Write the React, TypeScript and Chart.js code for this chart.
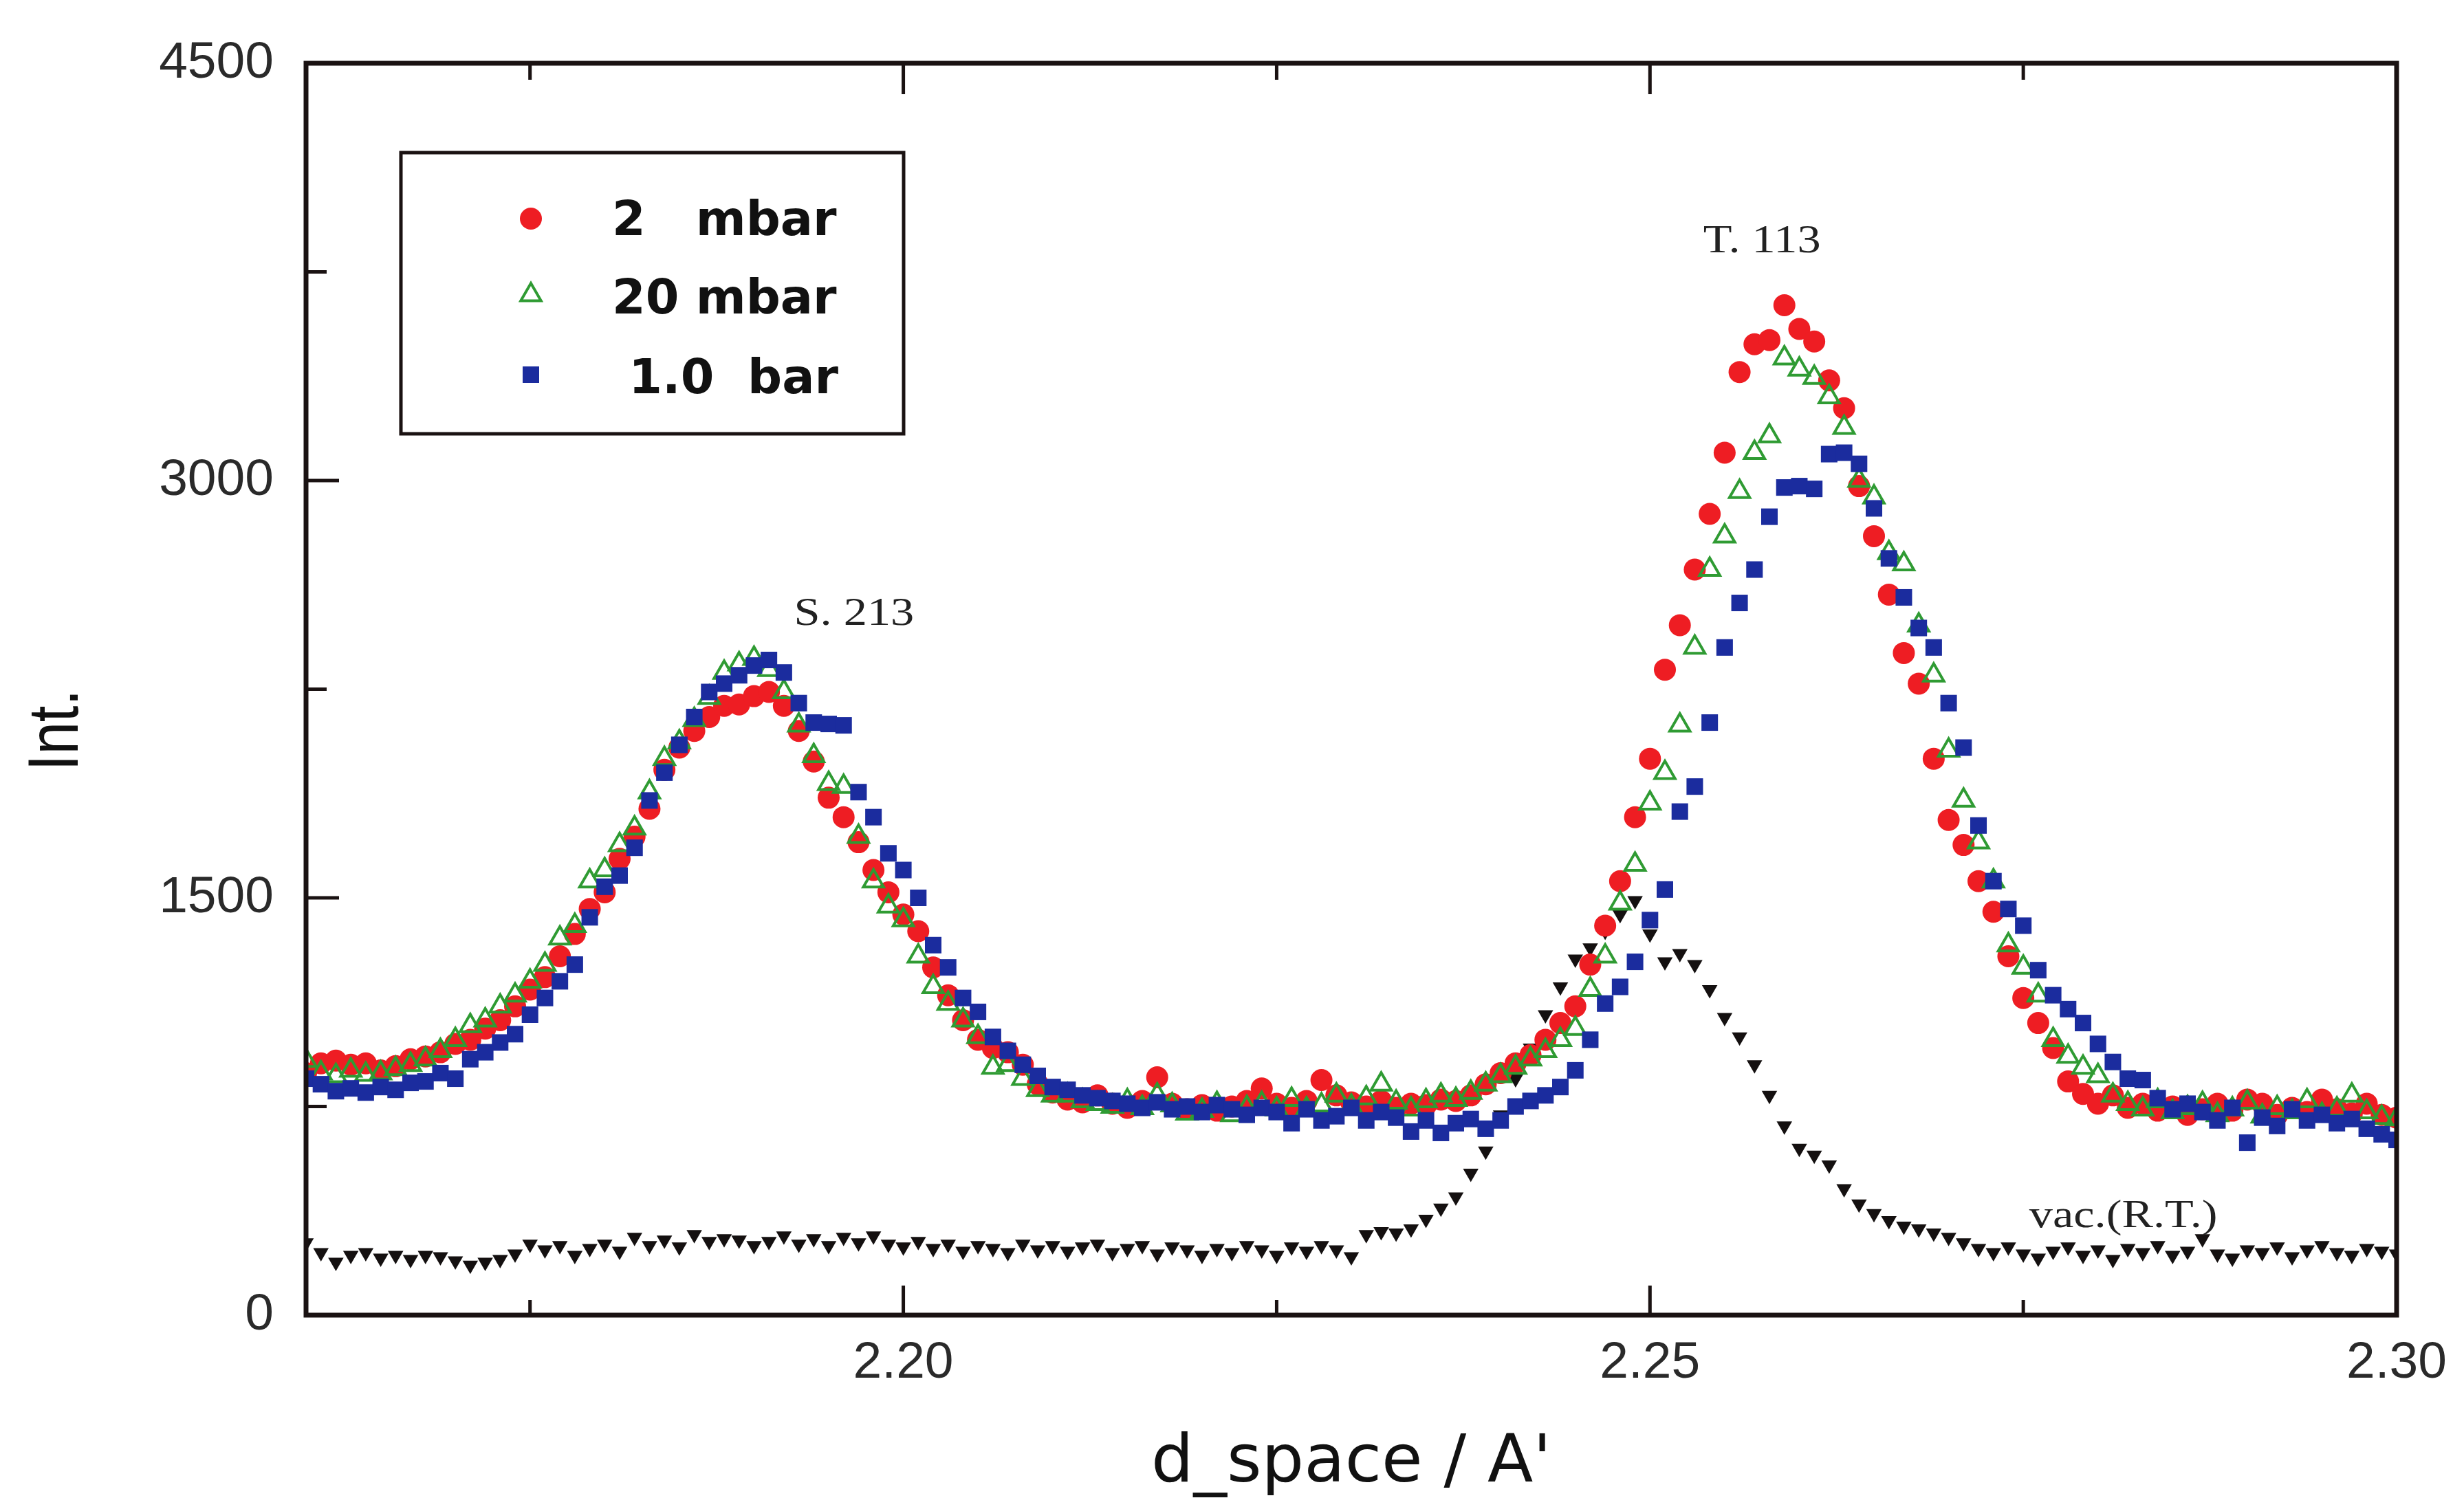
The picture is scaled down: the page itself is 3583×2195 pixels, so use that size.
import React, { useEffect, useRef } from "react";
import { Chart, registerables } from "chart.js";

Chart.register(...registerables);

// d-spacing positions (Å)
const dSpace = [
  2.160, 2.161, 2.162, 2.163, 2.164, 2.165, 2.166, 2.167, 2.168, 2.169,
  2.170, 2.171, 2.172, 2.173, 2.174, 2.175, 2.176, 2.177, 2.178, 2.179,
  2.180, 2.181, 2.182, 2.183, 2.184, 2.185, 2.186, 2.187, 2.188, 2.189,
  2.190, 2.191, 2.192, 2.193, 2.194, 2.195, 2.196, 2.197, 2.198, 2.199,
  2.200, 2.201, 2.202, 2.203, 2.204, 2.205, 2.206, 2.207, 2.208, 2.209,
  2.210, 2.211, 2.212, 2.213, 2.214, 2.215, 2.216, 2.217, 2.218, 2.219,
  2.220, 2.221, 2.222, 2.223, 2.224, 2.225, 2.226, 2.227, 2.228, 2.229,
  2.230, 2.231, 2.232, 2.233, 2.234, 2.235, 2.236, 2.237, 2.238, 2.239,
  2.240, 2.241, 2.242, 2.243, 2.244, 2.245, 2.246, 2.247, 2.248, 2.249,
  2.250, 2.251, 2.252, 2.253, 2.254, 2.255, 2.256, 2.257, 2.258, 2.259,
  2.260, 2.261, 2.262, 2.263, 2.264, 2.265, 2.266, 2.267, 2.268, 2.269,
  2.270, 2.271, 2.272, 2.273, 2.274, 2.275, 2.276, 2.277, 2.278, 2.279,
  2.280, 2.281, 2.282, 2.283, 2.284, 2.285, 2.286, 2.287, 2.288, 2.289,
  2.290, 2.291, 2.292, 2.293, 2.294, 2.295, 2.296, 2.297, 2.298, 2.299,
  2.300,
];

// 2 mbar (red circles)
const int2mbar = [
  870, 905, 915, 900, 905, 880, 895, 920, 930, 945,
  975, 990, 1030, 1060, 1110, 1170, 1215, 1290, 1370, 1460,
  1520, 1640, 1720, 1820, 1960, 2040, 2100, 2150, 2190, 2195,
  2225, 2240, 2190, 2100, 1990, 1860, 1790, 1700, 1600, 1520,
  1440, 1380, 1250, 1150, 1060, 990, 960, 945, 900, 830,
  800, 775, 765, 790, 760, 745, 770, 855, 760, 740,
  755, 735, 750, 770, 815, 760, 745, 770, 845, 790,
  765, 750, 770, 745, 760, 755, 775, 770, 790, 830,
  870, 905, 935, 990, 1050, 1110, 1260, 1400, 1560, 1790,
  2000, 2320, 2480, 2680, 2880, 3100, 3390, 3490, 3505, 3630,
  3545, 3500, 3360, 3260, 2980, 2800, 2590, 2380, 2270, 2000,
  1780, 1690, 1560, 1450, 1290, 1140, 1050, 960, 840, 795,
  760, 790, 745, 760, 735, 750, 720, 740, 760, 735,
  775, 760, 720, 745, 730, 775, 740, 725, 760, 720,
  710,
];

// 20 mbar (green open triangles)
const int20mbar = [
  915, 870, 860, 880, 865, 870, 885, 900, 920, 950,
  990, 1040, 1060, 1110, 1150, 1200, 1260, 1355, 1400, 1560,
  1600, 1690, 1750, 1880, 2000, 2060, 2140, 2220, 2310, 2340,
  2360, 2320, 2240, 2120, 2010, 1910, 1900, 1720, 1560, 1470,
  1420, 1290, 1180, 1120, 1060, 1000, 890, 900, 850, 810,
  790, 790, 770, 760, 750, 770, 745, 790, 755, 725,
  735, 760, 720, 745, 760, 740, 775, 740, 755, 790,
  750, 780, 830, 765, 740, 770, 790, 775, 800, 830,
  860, 890, 920, 950, 990, 1030, 1170, 1290, 1480, 1620,
  1840, 1950, 2120, 2400, 2680, 2800, 2960, 3100, 3160, 3440,
  3400, 3370, 3300, 3190, 3000, 2940, 2740, 2700, 2480, 2300,
  2030, 1850, 1700, 1560, 1330, 1250, 1150, 990, 930, 890,
  860, 790, 760, 740, 770, 730, 745, 760, 720, 740,
  765, 715, 745, 730, 770, 720, 740, 790, 730, 710,
  705,
];

// 1.0 bar (blue squares)
const int1bar = [
  850, 830, 805, 815, 800, 820, 810, 835, 840, 870,
  850, 920, 945, 980, 1010, 1080, 1140, 1200, 1260, 1430,
  1540, 1580, 1680, 1850, 1950, 2050, 2150, 2240, 2270, 2300,
  2335, 2355, 2310, 2200, 2130, 2125, 2120, 1880, 1790, 1660,
  1600, 1500, 1330, 1250, 1140, 1090, 1000, 950, 900, 860,
  820, 810, 790, 780, 770, 760, 745, 765, 740, 750,
  730, 755, 740, 720, 745, 730, 690, 740, 700, 715,
  745, 700, 730, 710, 660, 700, 655, 690, 705, 670,
  700, 750, 770, 790, 820, 880, 990, 1120, 1180, 1270,
  1420, 1530, 1810, 1900, 2130, 2400, 2560, 2680, 2870, 2975,
  2980, 2970, 3095, 3100, 3060, 2900, 2720, 2580, 2470, 2400,
  2200, 2040, 1760, 1560, 1460, 1400, 1240, 1150, 1100, 1050,
  975, 910, 850, 845, 780, 740, 760, 730, 700, 745,
  620, 710, 680, 740, 700, 720, 690, 705, 670, 650,
  630,
];

// vacuum, room temperature (black down-triangles)
const intVacRT = [
  260, 225, 190, 215, 225, 205, 215, 200, 215, 210,
  195, 180, 190, 200, 220, 255, 235, 250, 215, 240,
  255, 230, 280, 250, 270, 245, 290, 265, 275, 270,
  250, 265, 285, 255, 275, 250, 280, 260, 285, 255,
  245, 265, 240, 255, 230, 250, 240, 225, 255, 235,
  250, 230, 245, 255, 225, 240, 250, 220, 245, 235,
  215, 240, 225, 250, 235, 215, 245, 230, 250, 235,
  210, 290, 300, 295, 310, 345, 385, 425, 510, 590,
  720, 850, 960, 1080, 1180, 1280, 1320, 1380, 1440, 1490,
  1370, 1270, 1300, 1260, 1170, 1070, 1000, 900, 790, 680,
  600, 575, 540, 455, 400, 365, 340, 320, 310, 295,
  280, 260, 240, 225, 245, 220, 205, 230, 245, 215,
  235, 200, 240, 225, 250, 215, 230, 275, 220, 205,
  235, 225, 245, 210, 235, 250, 225, 215, 240, 230,
  220,
];

const seriesLabels = ["2   mbar", "20 mbar", " 1.0  bar", "vac.(R.T.)"];
const xTickValues = [2.175, 2.2, 2.225, 2.25, 2.275, 2.3];
const xLabelValues = [2.2, 2.25, 2.3];
const yTickValues = [0, 750, 1500, 2250, 3000, 3750, 4500];
const yLabelValues = [0, 1500, 3000, 4500];
const peakNotes = [
  { text: "S. 213", d: 2.1967, v: 2482 },
  { text: "T. 113", d: 2.2575, v: 3820 },
  { text: "vac.(R.T.)", d: 2.2817, v: 316 },
];

const RED = "#ee1d23";
const GREEN = "#2f9b33";
const BLUE = "#1b2c9e";
const BLACK = "#141010";
const AXIS = "#1a1212";

const isIn = (arr: number[], v: number) => arr.some((a) => Math.abs(a - v) < 1e-9);

const bgPlugin = {
  id: "bg",
  beforeDraw(chart: any) {
    const { ctx, width, height } = chart;
    ctx.save();
    ctx.fillStyle = "#ffffff";
    ctx.fillRect(0, 0, width, height);
    ctx.restore();
  },
};

const framePlugin = {
  id: "frame",
  afterDatasetsDraw(chart: any) {
    const { ctx, chartArea: a, scales } = chart;
    ctx.save();
    ctx.strokeStyle = AXIS;
    ctx.lineWidth = 7;
    ctx.strokeRect(a.left, a.top, a.right - a.left, a.bottom - a.top);
    ctx.lineWidth = 5;
    ctx.beginPath();
    for (const v of xTickValues) {
      const px = scales.x.getPixelForValue(v);
      if (px >= a.right - 3) continue;
      const major = isIn(xLabelValues, v);
      ctx.moveTo(px, a.bottom);
      ctx.lineTo(px, a.bottom - (major ? 43 : 22));
      ctx.moveTo(px, a.top);
      ctx.lineTo(px, a.top + (major ? 45 : 24));
    }
    for (const v of yTickValues) {
      const py = scales.y.getPixelForValue(v);
      if (py >= a.bottom - 3 || py <= a.top + 3) continue;
      const major = isIn(yLabelValues, v);
      ctx.moveTo(a.left, py);
      ctx.lineTo(a.left + (major ? 48 : 30), py);
    }
    ctx.stroke();
    ctx.restore();
  },
};

function drawMarker(ctx: CanvasRenderingContext2D, style: string, x: number, y: number, ds: any) {
  const r = ds.pointRadius;
  ctx.save();
  ctx.fillStyle = ds.pointBackgroundColor;
  ctx.strokeStyle = ds.pointBorderColor;
  ctx.lineWidth = ds.pointBorderWidth;
  ctx.beginPath();
  if (style === "circle") {
    ctx.arc(x, y, r, 0, Math.PI * 2);
  } else if (style === "triangle") {
    for (let k = 0; k < 3; k++) {
      const ang = -Math.PI / 2 + (k * 2 * Math.PI) / 3;
      const px = x + Math.cos(ang) * r;
      const py = y + Math.sin(ang) * r;
      if (k === 0) ctx.moveTo(px, py);
      else ctx.lineTo(px, py);
    }
    ctx.closePath();
  } else {
    const s = r * Math.SQRT1_2;
    ctx.rect(x - s, y - s, 2 * s, 2 * s);
  }
  ctx.fill();
  if (ds.pointBorderWidth > 0) ctx.stroke();
  ctx.restore();
}

const legendPlugin = {
  id: "boxLegend",
  afterDraw(chart: any) {
    const { ctx, chartArea: a } = chart;
    const bx = a.left + 138;
    const by = a.top + 130;
    const bw = 731;
    const bh = 409;
    ctx.save();
    ctx.fillStyle = "#ffffff";
    ctx.fillRect(bx, by, bw, bh);
    ctx.lineWidth = 5;
    ctx.strokeStyle = AXIS;
    ctx.strokeRect(bx, by, bw, bh);
    const markerY = [226, 337, 453];
    const textY = [250, 364, 480];
    for (let i = 0; i < 3; i++) {
      const ds: any = chart.data.datasets[i];
      drawMarker(ctx, ds.pointStyle, a.left + 327, a.top + markerY[i], ds);
      ctx.font = "bold 70px 'DejaVu Sans'";
      ctx.fillStyle = "#111111";
      ctx.textAlign = "left";
      ctx.textBaseline = "alphabetic";
      ctx.fillText(ds.label, a.left + 445, a.top + textY[i]);
    }
    ctx.restore();
  },
};

const notesPlugin = {
  id: "notes",
  afterDraw(chart: any) {
    const { ctx, scales } = chart;
    ctx.save();
    ctx.fillStyle = "#222222";
    ctx.font = "56px 'Liberation Serif'";
    ctx.textAlign = "center";
    ctx.textBaseline = "alphabetic";
    for (const n of peakNotes) {
      const px = scales.x.getPixelForValue(n.d);
      const py = scales.y.getPixelForValue(n.v);
      ctx.save();
      ctx.translate(px, py);
      ctx.scale(1.22, 1);
      ctx.fillText(n.text, 0, 0);
      ctx.restore();
    }
    // y-axis title
    ctx.save();
    ctx.translate(84, 1062);
    ctx.rotate(-Math.PI / 2);
    ctx.scale(0.82, 1);
    ctx.font = "104px 'Liberation Sans'";
    ctx.fillStyle = "#111111";
    ctx.textAlign = "center";
    ctx.textBaseline = "middle";
    ctx.fillText("Int.", 0, 0);
    ctx.restore();
    ctx.restore();
  },
};

export default function App() {
  const ref = useRef<HTMLCanvasElement>(null);
  useEffect(() => {
    const canvas = ref.current;
    if (!canvas) return;
    const toPts = (ys: number[]) => ys.map((y, i) => ({ x: dSpace[i], y }));
    const tickFont = { family: "'Liberation Sans'", size: 75 };
    const chart = new Chart(canvas, {
      type: "scatter",
      data: {
        datasets: [
          {
            label: seriesLabels[0],
            data: toPts(int2mbar),
            pointStyle: "circle",
            pointRadius: 16,
            pointBackgroundColor: RED,
            pointBorderColor: RED,
            pointBorderWidth: 0,
            showLine: false,
            order: 2,
            clip: 0,
          },
          {
            label: seriesLabels[1],
            data: toPts(int20mbar),
            pointStyle: "triangle",
            pointRadius: 17,
            pointBackgroundColor: "rgba(0,0,0,0)",
            pointBorderColor: GREEN,
            pointBorderWidth: 4,
            showLine: false,
            order: 1,
            clip: 0,
          },
          {
            label: seriesLabels[2],
            data: toPts(int1bar),
            pointStyle: "rect",
            pointRadius: 17,
            pointBackgroundColor: BLUE,
            pointBorderColor: BLUE,
            pointBorderWidth: 0,
            showLine: false,
            order: 0,
            clip: 0,
          },
          {
            label: seriesLabels[3],
            data: toPts(intVacRT),
            pointStyle: "triangle",
            pointRotation: 180,
            pointRadius: 13,
            pointBackgroundColor: BLACK,
            pointBorderColor: BLACK,
            pointBorderWidth: 0,
            showLine: false,
            order: 3,
            clip: 0,
          },
        ] as any,
      },
      options: {
        responsive: false,
        animation: false,
        devicePixelRatio: 1,
        events: [],
        layout: { padding: { left: 0, top: 60, right: 90, bottom: 0 } },
        plugins: {
          legend: { display: false },
          tooltip: { enabled: false },
        },
        scales: {
          x: {
            type: "linear",
            min: 2.16,
            max: 2.3,
            afterFit: (s: any) => {
              s.height = 282;
            },
            afterBuildTicks: (s: any) => {
              s.ticks = xTickValues.map((v) => ({ value: v }));
            },
            grid: { display: false, drawTicks: false },
            border: { display: false },
            ticks: {
              autoSkip: false,
              maxRotation: 0,
              padding: 25,
              color: "#2a2a2a",
              font: tickFont,
              callback: (v: any) => (isIn(xLabelValues, Number(v)) ? Number(v).toFixed(2) : ""),
            },
            title: {
              display: true,
              text: "d_space / A'",
              color: "#111111",
              font: { family: "'DejaVu Sans'", size: 97 },
              padding: { top: 0, bottom: 7 },
            },
          },
          y: {
            type: "linear",
            min: 0,
            max: 4500,
            afterFit: (s: any) => {
              s.width = 445;
            },
            afterBuildTicks: (s: any) => {
              s.ticks = yTickValues.map((v) => ({ value: v }));
            },
            grid: { display: false, drawTicks: false },
            border: { display: false },
            ticks: {
              autoSkip: false,
              padding: 47,
              color: "#2a2a2a",
              font: tickFont,
              callback: (v: any) => (isIn(yLabelValues, Number(v)) ? String(v) : ""),
            },
          },
        },
      } as any,
      plugins: [bgPlugin, framePlugin, legendPlugin, notesPlugin],
    });
    return () => chart.destroy();
  }, []);
  return (
    <div style={{ position: "absolute", left: 0, top: 0, width: 3583, height: 2195 }}>
      <canvas ref={ref} width={3583} height={2195} style={{ display: "block", width: 3583, height: 2195 }} />
    </div>
  );
}
